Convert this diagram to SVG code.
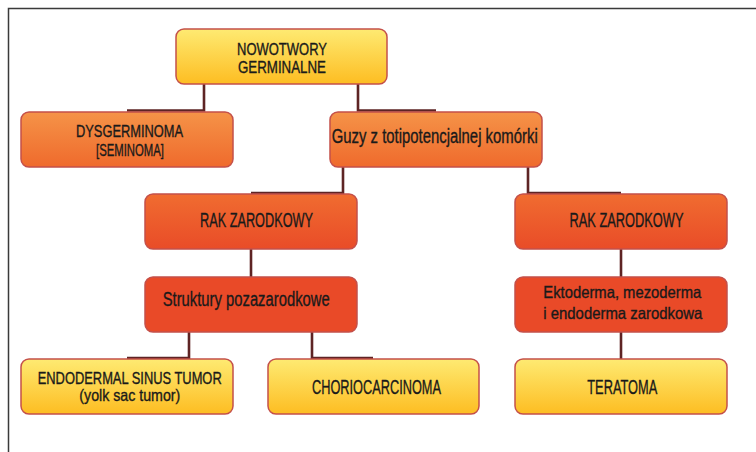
<svg xmlns="http://www.w3.org/2000/svg" width="756" height="452" viewBox="0 0 756 452">
  <defs>
    <linearGradient id="gYellow" x1="0" y1="0" x2="0" y2="1">
      <stop offset="0" stop-color="#FEEA72"/>
      <stop offset="1" stop-color="#FDBD22"/>
    </linearGradient>
    <linearGradient id="gOrange" x1="0" y1="0" x2="0" y2="1">
      <stop offset="0" stop-color="#F59348"/>
      <stop offset="1" stop-color="#EF6A2C"/>
    </linearGradient>
    <linearGradient id="gRedOrange" x1="0" y1="0" x2="0" y2="1">
      <stop offset="0" stop-color="#F06C30"/>
      <stop offset="1" stop-color="#E94C28"/>
    </linearGradient>
  </defs>
  <style>
    .box { stroke: #C4504A; stroke-width: 1.5; }
    .yellow { fill: url(#gYellow); }
    .orange { fill: url(#gOrange); }
    .redorange { fill: url(#gRedOrange); }
    .red { fill: #E94A28; }
    text { font-family: "Liberation Sans", Arial, sans-serif; font-size: 20px; fill: #1A1A1A; stroke: #1A1A1A; stroke-width: 0.35; }
    text.two { font-size: 16.5px; }
    .conn { fill: none; stroke: #5E2424; stroke-width: 2.6; }
    .frame { fill: none; stroke: #3A3A3A; stroke-width: 1.5; }
  </style>
  <rect width="756" height="452" fill="#FFFFFF"/>
  <path class="frame" d="M8.5,452 V8.5 H756"/>

  <g id="connectors">
    <path class="conn" d="M204,84 V110.5 H127"/>
    <path class="conn" d="M358,84 V110.5 H436"/>
    <path class="conn" d="M343,167 V193 H251"/>
    <path class="conn" d="M528,167 V193 H621"/>
    <path class="conn" d="M251,249 V277"/>
    <path class="conn" d="M621,249 V277"/>
    <path class="conn" d="M189,332 V358 H127"/>
    <path class="conn" d="M312,332 V358 H373"/>
    <path class="conn" d="M621,332 V359"/>
  </g>

  <g id="nowotwory">
    <rect class="box yellow" x="176" y="29" width="211" height="55" rx="8"/>
    <text class="two" x="237" y="54.5" textLength="90" lengthAdjust="spacingAndGlyphs">NOWOTWORY</text>
    <text class="two" x="238" y="72.7" textLength="88" lengthAdjust="spacingAndGlyphs">GERMINALNE</text>
  </g>

  <g id="dysgerminoma">
    <rect class="box orange" x="21" y="112" width="212" height="55" rx="8"/>
    <text class="two" x="76" y="137" textLength="107" lengthAdjust="spacingAndGlyphs">DYSGERMINOMA</text>
    <text class="two" x="96" y="155.5" textLength="68" lengthAdjust="spacingAndGlyphs">[SEMINOMA]</text>
  </g>

  <g id="guzy">
    <rect class="box orange" x="330" y="112" width="212" height="55" rx="8"/>
    <text x="331.7" y="143.3" textLength="206" lengthAdjust="spacingAndGlyphs">Guzy z totipotencjalnej komórki</text>
  </g>

  <g id="rak-left">
    <rect class="box redorange" x="145" y="194" width="212" height="55" rx="8"/>
    <text x="200" y="227.3" textLength="113" lengthAdjust="spacingAndGlyphs">RAK ZARODKOWY</text>
  </g>

  <g id="rak-right">
    <rect class="box redorange" x="515" y="194" width="212" height="55" rx="8"/>
    <text x="569.5" y="227.3" textLength="114" lengthAdjust="spacingAndGlyphs">RAK ZARODKOWY</text>
  </g>

  <g id="struktury">
    <rect class="box red" x="145" y="277" width="212" height="55" rx="8"/>
    <text x="162.7" y="306" textLength="167" lengthAdjust="spacingAndGlyphs">Struktury pozazarodkowe</text>
  </g>

  <g id="ektoderma">
    <rect class="box red" x="515" y="277" width="212" height="55" rx="8"/>
    <text class="two" x="543.3" y="298.3" textLength="158" lengthAdjust="spacingAndGlyphs">Ektoderma, mezoderma</text>
    <text class="two" x="543.3" y="319.3" textLength="159" lengthAdjust="spacingAndGlyphs">i endoderma zarodkowa</text>
  </g>

  <g id="endodermal">
    <rect class="box yellow" x="21" y="359" width="212" height="55" rx="8"/>
    <text class="two" x="37.7" y="383.7" textLength="184" lengthAdjust="spacingAndGlyphs">ENDODERMAL SINUS TUMOR</text>
    <text class="two" x="79.3" y="401.3" textLength="101" lengthAdjust="spacingAndGlyphs">(yolk sac tumor)</text>
  </g>

  <g id="choriocarcinoma">
    <rect class="box yellow" x="268" y="359" width="211" height="55" rx="8"/>
    <text x="312" y="394.3" textLength="129" lengthAdjust="spacingAndGlyphs">CHORIOCARCINOMA</text>
  </g>

  <g id="teratoma">
    <rect class="box yellow" x="515" y="359" width="212" height="55" rx="8"/>
    <text x="587.3" y="393.5" textLength="70" lengthAdjust="spacingAndGlyphs">TERATOMA</text>
  </g>
</svg>
